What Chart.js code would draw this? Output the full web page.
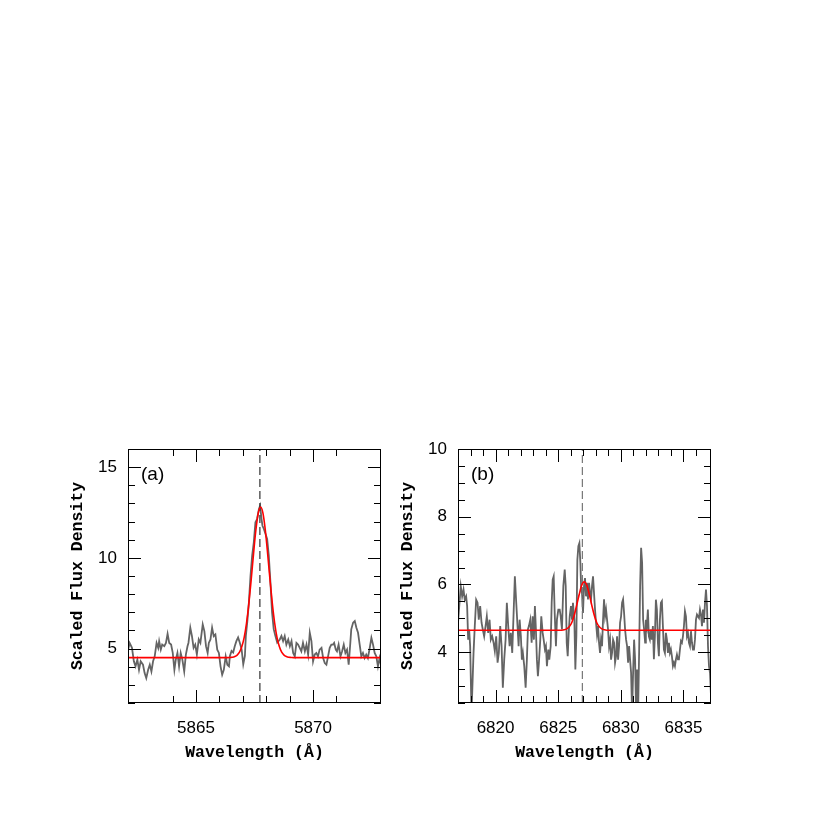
<!DOCTYPE html>
<html>
<head>
<meta charset="utf-8">
<script src="https://cdn.jsdelivr.net/npm/chart.js@4.4.1/dist/chart.umd.min.js"></script>
<style>
  body { margin: 0; background: #fff; }
  #wrap { position: relative; width: 830px; height: 830px; }
  canvas { position: absolute; top: 0; }
  #chartA { left: 0; }
  #chartB { left: 330px; }
</style>
</head>
<body>
<div id="wrap">
  <canvas id="chartA" width="400" height="830"></canvas>
  <canvas id="chartB" width="500" height="830"></canvas>
</div>
<script>
// ---- panel (a): observed spectrum around 5867.7 A ----
const waveA = [
  5862.04, 5862.09, 5862.17, 5862.27, 5862.35, 5862.42, 5862.50, 5862.57, 5862.64, 5862.74,
  5862.81, 5862.88, 5862.96, 5863.03, 5863.10, 5863.17, 5863.24, 5863.32, 5863.39, 5863.43,
  5863.50, 5863.56, 5863.65, 5863.72, 5863.79, 5863.86, 5863.94, 5864.01, 5864.08, 5864.14,
  5864.21, 5864.28, 5864.35, 5864.42, 5864.50, 5864.57, 5864.64, 5864.68, 5864.76, 5864.83,
  5864.90, 5864.97, 5865.04, 5865.12, 5865.19, 5865.29, 5865.36, 5865.43, 5865.50, 5865.55,
  5865.62, 5865.69, 5865.76, 5865.83, 5865.91, 5865.98, 5866.05, 5866.12, 5866.19, 5866.27,
  5866.34, 5866.41, 5866.45, 5866.52, 5866.59, 5866.66, 5866.73, 5866.80, 5866.87, 5866.95,
  5867.02, 5867.09, 5867.13, 5867.19, 5867.26, 5867.33, 5867.40, 5867.47, 5867.54, 5867.61,
  5867.69, 5867.74, 5867.80, 5867.84, 5867.90, 5867.97, 5868.04, 5868.11, 5868.18, 5868.25,
  5868.32, 5868.39, 5868.47, 5868.58, 5868.65, 5868.72, 5868.79, 5868.86, 5868.94, 5869.01,
  5869.08, 5869.15, 5869.22, 5869.29, 5869.36, 5869.43, 5869.50, 5869.57, 5869.65, 5869.72,
  5869.79, 5869.86, 5869.93, 5870.00, 5870.07, 5870.14, 5870.21, 5870.28, 5870.36, 5870.43,
  5870.50, 5870.57, 5870.64, 5870.71, 5870.78, 5870.85, 5870.90, 5870.97, 5871.02, 5871.09,
  5871.17, 5871.24, 5871.31, 5871.38, 5871.45, 5871.52, 5871.59, 5871.63, 5871.71, 5871.78,
  5871.85, 5871.92, 5871.99, 5872.06, 5872.13, 5872.20, 5872.27, 5872.34, 5872.42, 5872.49,
  5872.56, 5872.63, 5872.70, 5872.77, 5872.84, 5872.90
];
const fluxA = [
  5.31, 4.85, 5.31, 5.04, 4.30, 4.02, 4.39, 3.83, 4.30, 4.11,
  3.65, 3.37, 3.83, 4.11, 3.74, 4.30, 4.57, 5.31, 5.04, 5.41,
  4.94, 5.22, 5.13, 5.31, 5.81, 5.31, 5.22, 4.76, 3.83, 4.39,
  4.76, 4.02, 4.76, 4.39, 3.74, 4.67, 5.13, 5.31, 6.15, 5.69,
  5.04, 5.22, 4.67, 5.50, 5.31, 6.33, 5.96, 5.13, 4.76, 5.31,
  5.50, 6.15, 5.69, 5.78, 4.94, 4.76, 4.02, 3.56, 3.83, 4.57,
  4.11, 4.02, 4.59, 4.87, 4.78, 5.14, 5.42, 5.61, 5.33, 4.96,
  4.13, 4.59, 5.70, 6.44, 7.54, 9.01, 10.12, 10.86, 11.96, 12.14,
  12.70, 12.88, 12.14, 11.77, 11.59, 11.31, 11.04, 10.12, 8.65, 6.99,
  6.07, 5.70, 5.33, 5.50, 5.69, 5.41, 5.69, 5.22, 5.50, 5.13,
  5.41, 4.76, 4.57, 5.31, 5.22, 5.04, 4.85, 5.31, 4.85, 5.22,
  4.67, 5.87, 5.41, 4.30, 4.67, 4.76, 4.57, 4.94, 5.04, 4.48,
  4.20, 4.11, 4.57, 5.04, 5.22, 5.22, 5.31, 4.94, 4.85, 5.22,
  4.57, 4.85, 5.22, 4.76, 4.94, 4.11, 5.31, 6.06, 6.43, 6.52,
  6.15, 5.87, 5.22, 4.57, 4.76, 4.48, 4.67, 4.48, 5.04, 5.59,
  5.22, 4.76, 4.57, 4.02, 4.48, 4.11
];
// gaussian fit
const fitWaveA = [
  5862.10, 5866.36, 5866.46, 5866.56, 5866.66, 5866.76, 5866.86, 5866.96, 5867.06, 5867.16,
  5867.26, 5867.36, 5867.46, 5867.56, 5867.66, 5867.76, 5867.86, 5867.96, 5868.06, 5868.16,
  5868.26, 5868.36, 5868.46, 5868.56, 5868.66, 5868.76, 5868.86, 5868.96, 5869.06, 5869.16,
  5872.90
];
const fitFluxA = [
  4.50, 4.50, 4.51, 4.52, 4.56, 4.64, 4.80, 5.11, 5.62, 6.41,
  7.49, 8.82, 10.25, 11.55, 12.47, 12.80, 12.47, 11.55, 10.25, 8.82,
  7.49, 6.41, 5.62, 5.11, 4.80, 4.64, 4.56, 4.52, 4.51, 4.50,
  4.50
];
const restLineA = 5867.73;
const xRangeA = [5862.1, 5872.9];
const yRangeA = [2, 16];
const xLabelsA = [5865, 5870];
const yLabelsA = [5, 10, 15];

// ---- panel (b): observed spectrum around 6827 A ----
const waveB = [
  6816.96, 6817.22, 6817.33, 6817.44, 6817.54, 6817.65, 6817.73, 6817.81, 6817.89, 6817.97,
  6818.08, 6818.24, 6818.34, 6818.45, 6818.56, 6818.66, 6818.77, 6818.88, 6818.98, 6819.09,
  6819.20, 6819.30, 6819.41, 6819.52, 6819.62, 6819.73, 6819.84, 6819.94, 6820.05, 6820.16,
  6820.26, 6820.37, 6820.48, 6820.58, 6820.69, 6820.80, 6820.90, 6821.01, 6821.12, 6821.22,
  6821.33, 6821.44, 6821.54, 6821.65, 6821.84, 6821.92, 6822.02, 6822.10, 6822.18, 6822.29,
  6822.40, 6822.50, 6822.58, 6822.66, 6822.77, 6822.88, 6822.96, 6823.06, 6823.14, 6823.22,
  6823.30, 6823.38, 6823.46, 6823.57, 6823.65, 6823.76, 6823.84, 6823.94, 6824.02, 6824.10,
  6824.21, 6824.29, 6824.40, 6824.48, 6824.56, 6824.64, 6824.72, 6824.82, 6824.90, 6825.01,
  6825.12, 6825.20, 6825.30, 6825.41, 6825.52, 6825.60, 6825.68, 6825.76, 6825.84, 6825.92,
  6826.02, 6826.10, 6826.18, 6826.29, 6826.37, 6826.45, 6826.53, 6826.61, 6826.69, 6826.77,
  6826.84, 6826.90, 6826.98, 6827.06, 6827.14, 6827.22, 6827.30, 6827.38, 6827.46, 6827.54,
  6827.62, 6827.70, 6827.78, 6827.86, 6827.94, 6828.02, 6828.10, 6828.18, 6828.26, 6828.34,
  6828.42, 6828.50, 6828.58, 6828.66, 6828.74, 6828.82, 6828.90, 6828.98, 6829.06, 6829.14,
  6829.22, 6829.30, 6829.38, 6829.46, 6829.54, 6829.62, 6829.70, 6829.78, 6829.86, 6829.94,
  6830.02, 6830.10, 6830.18, 6830.26, 6830.34, 6830.42, 6830.50, 6830.58, 6830.66, 6830.74,
  6830.82, 6830.90, 6830.98, 6831.06, 6831.14, 6831.22, 6831.30, 6831.38, 6831.46, 6831.54,
  6831.62, 6831.70, 6831.78, 6831.86, 6831.94, 6832.00, 6832.08, 6832.16, 6832.24, 6832.32,
  6832.40, 6832.48, 6832.56, 6832.64, 6832.72, 6832.80, 6832.88, 6832.96, 6833.04, 6833.12,
  6833.20, 6833.28, 6833.36, 6833.44, 6833.52, 6833.60, 6833.68, 6833.76, 6833.84, 6833.92,
  6834.00, 6834.08, 6834.16, 6834.24, 6834.32, 6834.40, 6834.48, 6834.56, 6834.64, 6834.72,
  6834.80, 6834.88, 6834.96, 6835.04, 6835.12, 6835.20, 6835.28, 6835.36, 6835.44, 6835.52,
  6835.60, 6835.68, 6835.76, 6835.84, 6835.92, 6836.00, 6836.08, 6836.16, 6836.24, 6836.32,
  6836.40, 6836.48, 6836.56, 6836.64, 6836.72, 6836.80, 6836.88, 6836.96, 6837.04, 6837.12,
  6837.20
];
const fluxB = [
  4.67, 5.95, 5.65, 5.85, 5.55, 5.65, 5.36, 4.37, 4.67, 4.18,
  2.20, 3.98, 4.77, 5.55, 5.46, 4.96, 5.36, 4.87, 4.67, 4.47,
  4.77, 5.06, 4.57, 4.96, 4.37, 4.47, 4.28, 4.03, 4.47, 3.69,
  3.98, 4.77, 4.18, 2.95, 3.78, 4.37, 5.46, 4.77, 4.18, 4.57,
  3.98, 5.16, 6.24, 5.46, 4.18, 4.96, 4.47, 3.78, 3.98, 3.59,
  2.95, 3.78, 4.67, 4.77, 4.96, 4.28, 5.06, 4.37, 5.36, 4.67,
  3.78, 3.29, 3.69, 4.37, 5.06, 4.57, 4.37, 4.08, 4.18, 3.59,
  4.08, 3.78, 4.18, 5.46, 6.14, 6.24, 5.16, 4.18, 4.96, 5.26,
  5.26, 5.06, 4.67, 5.95, 6.44, 5.95, 4.28, 3.88, 4.57, 5.06,
  5.36, 4.96, 5.46, 4.96, 3.49, 4.47, 6.73, 7.13, 7.22, 6.64,
  5.80, 5.75, 5.16, 5.95, 6.19, 5.65, 6.05, 5.56, 6.05, 5.75,
  5.56, 5.95, 6.24, 5.75, 5.26, 4.87, 4.52, 4.77, 4.28, 3.98,
  4.37, 4.18, 4.96, 5.56, 5.06, 5.26, 4.96, 4.67, 4.18, 4.37,
  3.78, 3.98, 4.37, 4.28, 3.69, 3.88, 4.47, 3.78, 4.18, 4.87,
  5.06, 5.46, 5.56, 5.16, 4.67, 4.37, 4.18, 3.69, 4.18, 3.78,
  3.39, 2.20, 3.39, 4.37, 3.78, 2.20, 3.49, 2.20, 3.98, 5.95,
  7.08, 6.64, 4.96, 4.67, 4.28, 4.96, 4.77, 5.26, 4.47, 4.37,
  4.67, 4.37, 4.77, 3.79, 4.47, 5.55, 5.26, 4.28, 3.88, 4.96,
  5.46, 5.51, 4.77, 4.08, 3.98, 4.57, 4.37, 3.98, 4.28, 3.98,
  4.08, 3.88, 3.59, 3.69, 3.59, 3.79, 3.93, 3.79, 3.79, 4.08,
  4.33, 4.28, 4.47, 4.77, 5.21, 5.06, 4.47, 4.57, 4.28, 4.18,
  4.62, 4.28, 4.08, 4.08, 4.37, 4.96, 5.11, 5.06, 5.01, 5.26,
  5.11, 4.77, 5.26, 4.87, 5.46, 5.85, 5.36, 4.18, 3.59, 3.39,
  2.70
];
const fitWaveB = [
  6817.00, 6825.28, 6825.48, 6825.68, 6825.88, 6826.08, 6826.28, 6826.48, 6826.68, 6826.88,
  6827.08, 6827.28, 6827.48, 6827.68, 6827.88, 6828.08, 6828.28, 6828.48, 6828.68, 6828.88,
  6837.20
];
const fitFluxB = [
  4.65, 4.65, 4.66, 4.69, 4.75, 4.87, 5.09, 5.39, 5.71, 5.98,
  6.08, 5.98, 5.71, 5.39, 5.09, 4.87, 4.75, 4.69, 4.66, 4.65,
  4.65
];
const restLineB = 6826.93;
const xRangeB = [6817, 6837.2];
const yRangeB = [2.5, 10];
const xLabelsB = [6820, 6825, 6830, 6835];
const yLabelsB = [4, 6, 8, 10];

const TICK_FONT = { family: '"Liberation Sans", Arial, sans-serif', size: 17 };
const TITLE_FONT = { family: '"Liberation Mono", "Courier New", monospace', size: 16.5, weight: 'bold' };

function onStep(v, s) {
  return Math.abs(v / s - Math.round(v / s)) < 1e-6;
}

// inward ticks on all four sides, the frame, and the panel tag
const frameTicks = {
  id: 'frameTicks',
  afterDatasetsDraw(chart, args, opts) {
    const { ctx, chartArea: a, scales: { x, y } } = chart;
    ctx.save();
    ctx.strokeStyle = '#000';
    ctx.lineWidth = 1;
    ctx.beginPath();
    x.ticks.forEach(t => {
      if (!onStep(t.value, opts.xMinor)) return;
      const len = onStep(t.value, opts.xMajor) ? 13 : 7;
      const px = Math.round(x.getPixelForValue(t.value)) + 0.5;
      ctx.moveTo(px, a.bottom); ctx.lineTo(px, a.bottom - len);
      ctx.moveTo(px, a.top); ctx.lineTo(px, a.top + len);
    });
    y.ticks.forEach(t => {
      if (!onStep(t.value, opts.yMinor)) return;
      const len = onStep(t.value, opts.yMajor) ? 13 : 7;
      const py = Math.round(y.getPixelForValue(t.value)) + 0.5;
      ctx.moveTo(a.left, py); ctx.lineTo(a.left + len, py);
      ctx.moveTo(a.right, py); ctx.lineTo(a.right - len, py);
    });
    ctx.stroke();
    ctx.strokeRect(a.left + 0.5, a.top + 0.5, a.width - 1, a.height - 1);
    ctx.fillStyle = '#000';
    ctx.font = '19px "Liberation Sans", Arial, sans-serif';
    ctx.textBaseline = 'middle';
    ctx.textAlign = 'left';
    ctx.fillText(opts.tag, a.left + 13, a.top + 26);
    ctx.restore();
  }
};

function makePanel(id, p) {
  const toPts = (xs, ys) => xs.map((v, i) => ({ x: v, y: ys[i] }));
  new Chart(document.getElementById(id), {
    type: 'line',
    data: {
      datasets: [
        {
          label: 'fit',
          data: toPts(p.fitWave, p.fitFlux),
          borderColor: '#ff0000',
          borderWidth: 1.6,
          pointRadius: 0,
          cubicInterpolationMode: 'monotone',
          order: 0
        },
        {
          label: 'rest',
          data: [{ x: p.rest, y: p.yRange[0] }, { x: p.rest, y: p.yRange[1] }],
          borderColor: p.dashColor,
          borderWidth: 1.2,
          borderDash: [8, 4],
          pointRadius: 0,
          order: 1
        },
        {
          label: 'spectrum',
          data: toPts(p.wave, p.flux),
          borderColor: '#646464',
          borderWidth: 1.8,
          pointRadius: 0,
          tension: 0,
          order: 2
        }
      ]
    },
    options: {
      responsive: false,
      animation: false,
      events: [],
      layout: { padding: { left: 68, right: p.padRight, top: 449, bottom: 67 } },
      plugins: {
        legend: { display: false },
        tooltip: { enabled: false },
        frameTicks: p.ticks
      },
      scales: {
        x: {
          type: 'linear',
          min: p.xRange[0],
          max: p.xRange[1],
          grid: { display: false, drawTicks: false },
          border: { display: false },
          ticks: {
            stepSize: 1,
            autoSkip: false,
            maxRotation: 0,
            padding: 15,
            color: '#000',
            font: TICK_FONT,
            callback: v => (p.xLabels.some(l => Math.abs(l - v) < 1e-6) ? String(v) : '')
          },
          title: { display: true, text: 'Wavelength (Å)', color: '#000', font: TITLE_FONT, padding: 0 },
          afterFit: s => { s.height = 60; }
        },
        y: {
          type: 'linear',
          min: p.yRange[0],
          max: p.yRange[1],
          grid: { display: false, drawTicks: false },
          border: { display: false },
          ticks: {
            stepSize: p.ticks.yMinor,
            autoSkip: false,
            padding: 11,
            color: '#000',
            font: TICK_FONT,
            callback: v => (p.yLabels.some(l => Math.abs(l - v) < 1e-6) ? String(v) : '')
          },
          title: { display: true, text: 'Scaled Flux Density', color: '#000', font: TITLE_FONT, padding: 0 },
          afterFit: s => { s.width = 60; }
        }
      }
    },
    plugins: [frameTicks]
  });
}

makePanel('chartA', {
  wave: waveA, flux: fluxA, fitWave: fitWaveA, fitFlux: fitFluxA,
  rest: restLineA, xRange: xRangeA, yRange: yRangeA,
  xLabels: xLabelsA, yLabels: yLabelsA,
  dashColor: '#333', padRight: 19,
  ticks: { tag: '(a)', xMinor: 1, xMajor: 5, yMinor: 1, yMajor: 5 }
});

makePanel('chartB', {
  wave: waveB, flux: fluxB, fitWave: fitWaveB, fitFlux: fitFluxB,
  rest: restLineB, xRange: xRangeB, yRange: yRangeB,
  xLabels: xLabelsB, yLabels: yLabelsB,
  dashColor: '#777', padRight: 119,
  ticks: { tag: '(b)', xMinor: 1, xMajor: 5, yMinor: 0.5, yMajor: 2 }
});
</script>
</body>
</html>
